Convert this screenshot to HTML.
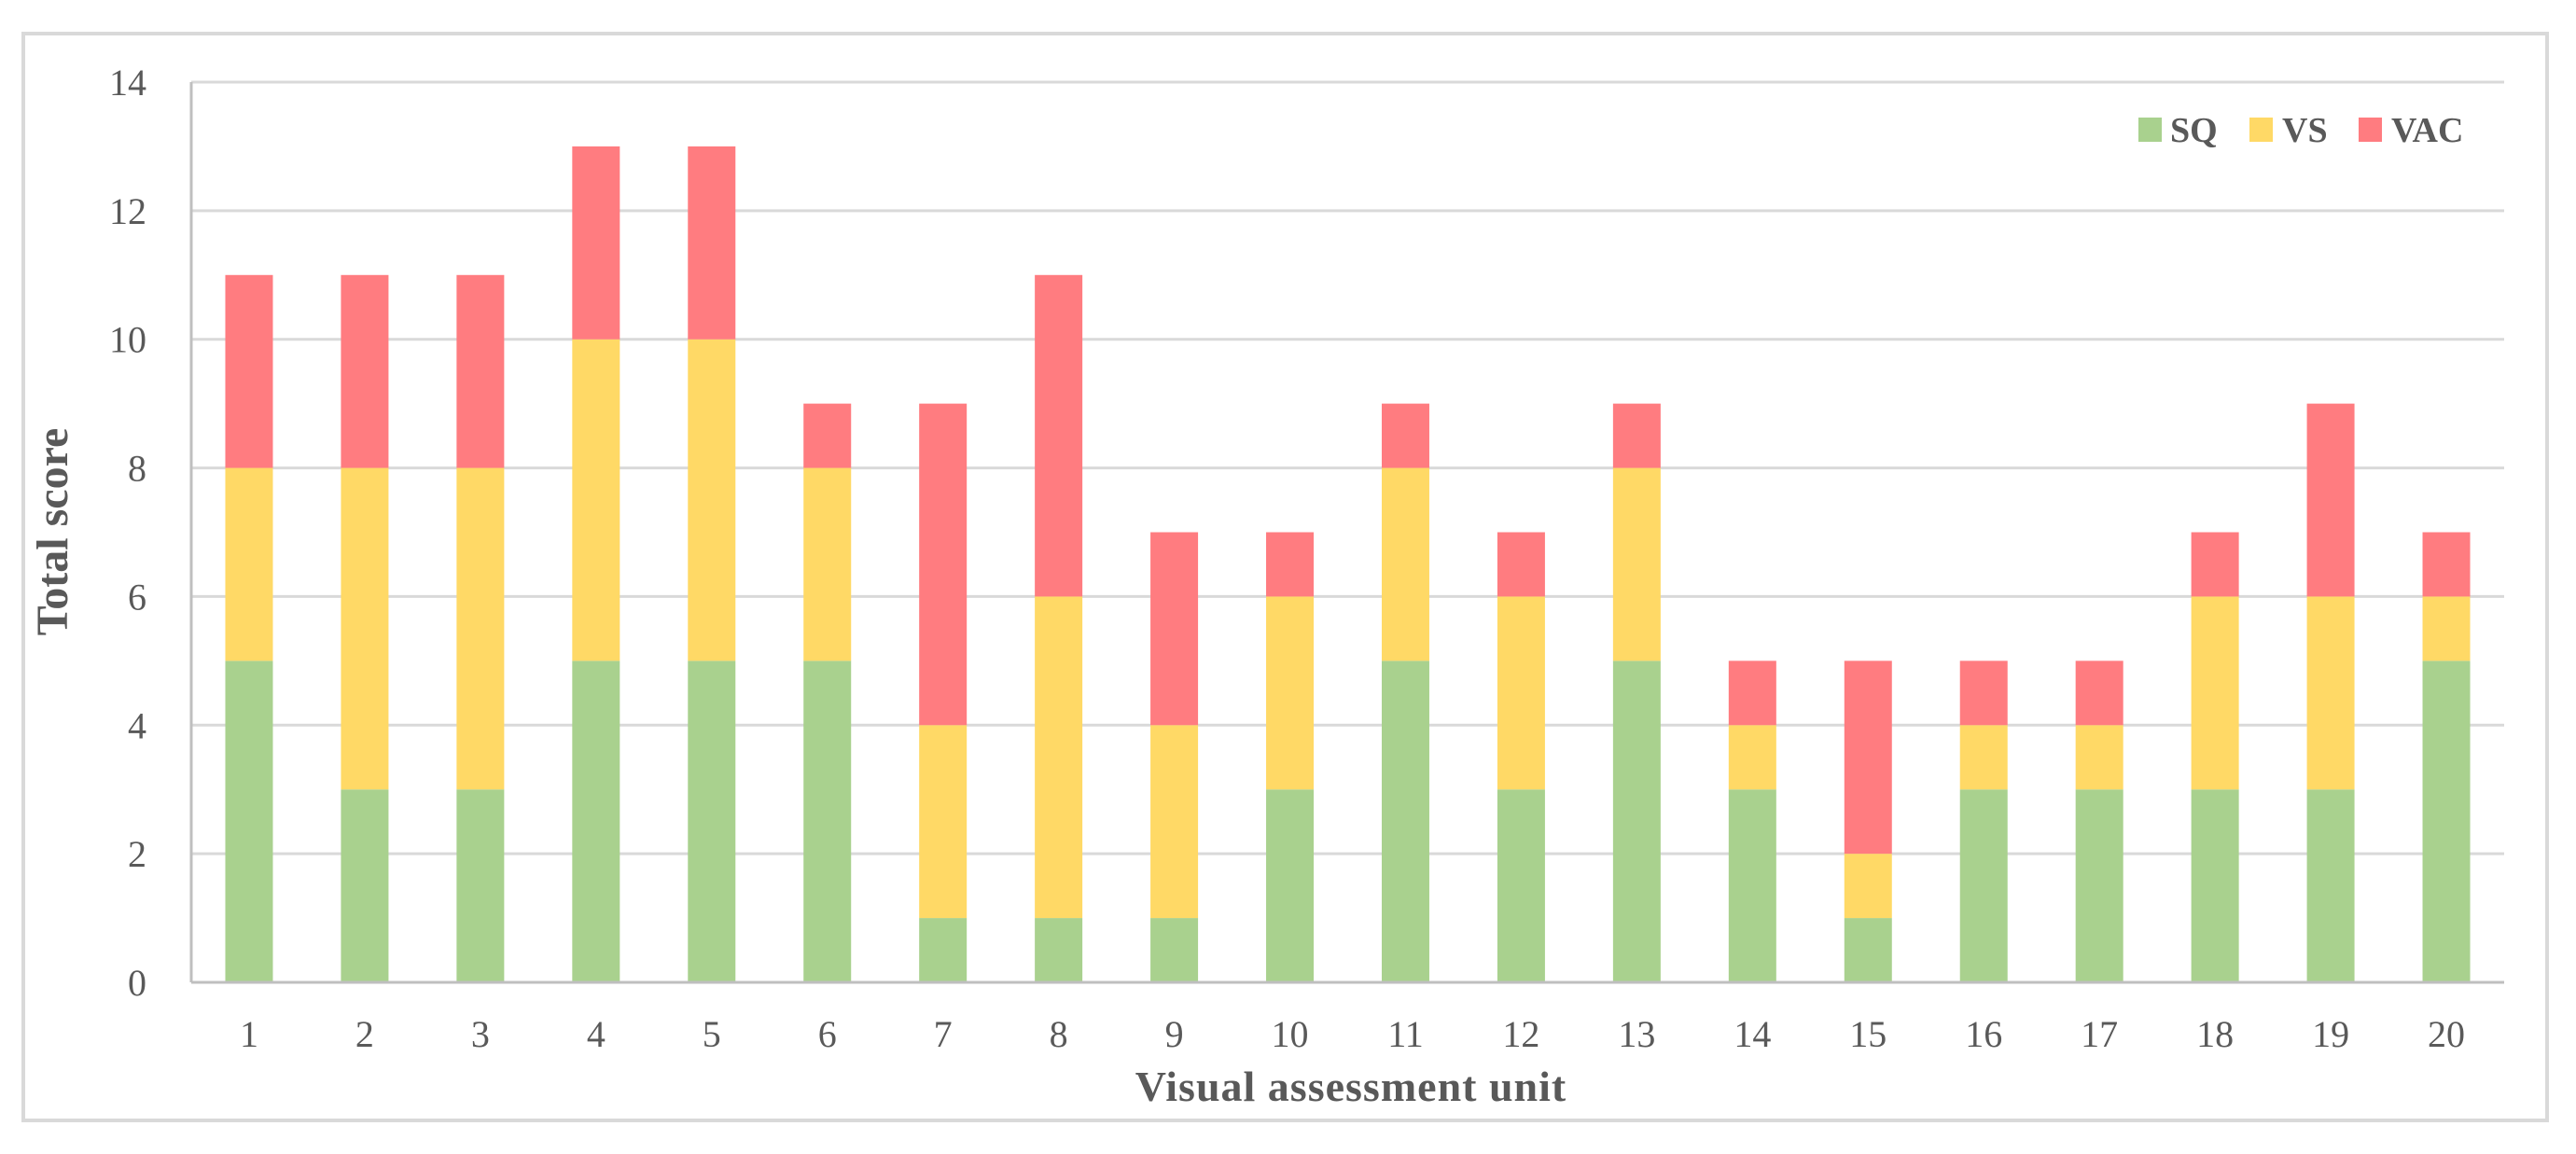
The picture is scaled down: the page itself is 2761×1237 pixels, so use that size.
<!DOCTYPE html>
<html><head><meta charset="utf-8"><style>
html,body{margin:0;padding:0;background:#fff;}
svg{display:block;font-family:"Liberation Serif",serif;}
</style></head><body>
<svg id="chart" width="2761" height="1237" viewBox="0 0 2761 1237" xmlns="http://www.w3.org/2000/svg">
<rect x="25" y="36" width="2705" height="1165" fill="#fff" stroke="#d9d9d9" stroke-width="4"/>
<g id="grid"></g>
<g id="bars"></g>
<g id="axes"></g>
<text x="72" y="570" transform="rotate(-90 72 570)" text-anchor="middle" font-size="48" font-weight="bold" fill="#595959">Total score</text>
<text x="1448" y="1180" text-anchor="middle" font-size="46" font-weight="bold" fill="#595959" letter-spacing="1">Visual assessment unit</text>
<g>
<g><rect x="2292" y="126" width="25" height="26" fill="#a9d18e"/><text x="2326" y="152" font-size="38" font-weight="bold" fill="#595959">SQ</text></g>
<g><rect x="2411" y="126" width="25" height="26" fill="#ffd966"/><text x="2446" y="152" font-size="38" font-weight="bold" fill="#595959">VS</text></g>
<g><rect x="2528" y="126" width="25" height="26" fill="#ff7c80"/><text x="2563" y="152" font-size="38" font-weight="bold" fill="#595959">VAC</text></g>
</g>
</svg>
<script>
const categories = ["1","2","3","4","5","6","7","8","9","10","11","12","13","14","15","16","17","18","19","20"];
const sqValues  = [5,3,3,5,5,5,1,1,1,3,5,3,5,3,1,3,3,3,3,5];
const vsValues  = [3,5,5,5,5,3,3,5,3,3,3,3,3,1,1,1,1,3,3,1];
const vacValues = [3,3,3,3,3,1,5,5,3,1,1,1,1,1,3,1,1,1,3,1];
const yTicks = [0,2,4,6,8,10,12,14];

const NS = "http://www.w3.org/2000/svg";
const L = 205, R = 2684, Y0 = 1053, Y14 = 88, YMAX = 14;
const band = (R - L) / categories.length;
const barW = 51;
function xScale(i){ return L + band * (i + 0.5); }
function yScale(v){ return Y0 - (Y0 - Y14) * v / YMAX; }
function mk(tag, attrs, parent){
  const e = document.createElementNS(NS, tag);
  for (const k in attrs) e.setAttribute(k, attrs[k]);
  parent.appendChild(e);
  return e;
}
const grid = document.getElementById('grid');
const axes = document.getElementById('axes');
const barsG = document.getElementById('bars');

yTicks.forEach(t => {
  const y = yScale(t);
  if (t > 0) {
    const ln = mk('line', {x1: L, x2: R, y1: y, y2: y, stroke: '#d9d9d9', 'stroke-width': 3}, grid);
    
    
  }
  const tx = mk('text', {x: 157, y: y + 14, 'text-anchor': 'end', 'font-size': 40, fill: '#595959'}, axes);
  tx.textContent = t;
  
  
});

const series = [
  {name: 'sq', vals: sqValues, color: '#a9d18e'},
  {name: 'vs', vals: vsValues, color: '#ffd966'},
  {name: 'vac', vals: vacValues, color: '#ff7c80'}
];
categories.forEach((c, i) => {
  let base = 0;
  series.forEach(s => {
    const v = s.vals[i];
    const yTop = yScale(base + v), yBot = yScale(base);
    const r = mk('rect', {x: xScale(i) - barW / 2, y: yTop, width: barW, height: yBot - yTop, fill: s.color}, barsG);
    
    
    base += v;
  });
  const tx = mk('text', {x: xScale(i), y: 1122, 'text-anchor': 'middle', 'font-size': 40, fill: '#595959'}, axes);
  tx.textContent = c;
  
  
});

const yAxis = mk('line', {x1: L, x2: L, y1: Y14, y2: Y0, stroke: '#bfbfbf', 'stroke-width': 3}, axes);


const topLine = mk('line', {x1: L, x2: R, y1: Y14, y2: Y14, stroke: '#d9d9d9', 'stroke-width': 3}, grid);


const xAxis = mk('line', {x1: L, x2: R, y1: Y0, y2: Y0, stroke: '#bfbfbf', 'stroke-width': 3}, axes);


</script>
</body></html>
